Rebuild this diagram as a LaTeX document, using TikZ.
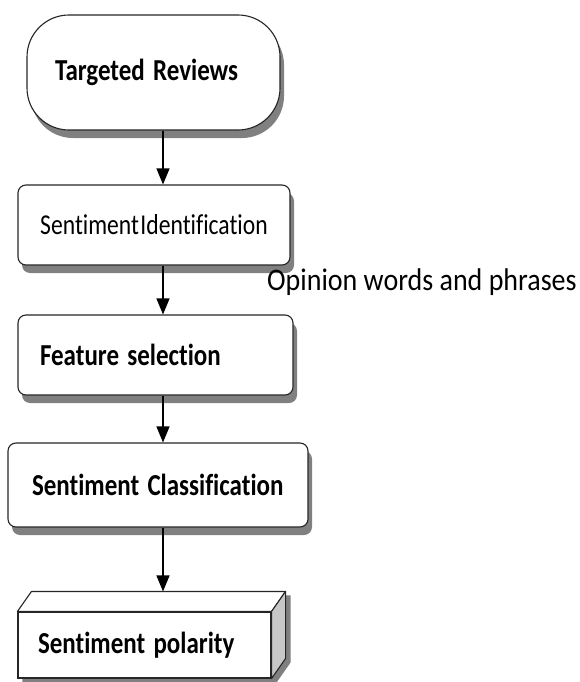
\documentclass[tikz,border=0pt]{standalone}
\usepackage{fontspec}
\setmainfont{Carlito}[Ligatures=NoCommon]
\usetikzlibrary{shadows,arrows.meta,backgrounds}
\newcommand{\vst}[1]{\scalebox{1}[1.22]{#1}}
\begin{document}
\begin{tikzpicture}[x=1pt,y=-1pt,
  box/.style={draw=black!85, line width=1.1pt, fill=white, rounded corners=8pt, align=left, inner ysep=0pt,
    drop shadow={shadow xshift=4pt, shadow yshift=-8pt, fill=black!50, opacity=1}},
  arr/.style={line width=1.2pt, -{Triangle[width=13pt,length=16pt]}},
  bfont/.style={font=\fontsize{25}{30}\selectfont\bfseries},
  rfont/.style={font=\fontsize{23.6}{28}\selectfont},
]
\useasboundingbox (0,0) rectangle (579,682);
\coordinate (ax) at (163,0);

\node[box, rounded corners=42pt, minimum height=115pt, text width=197pt, inner xsep=28pt, bfont]
  (tr) at (153.5,72.5) {\raisebox{5pt}{\vst{Targeted Reviews}}};

\node[box, minimum height=80pt, text width=252pt, inner xsep=10pt, align=center, rfont]
  (si) at (154,225) {\vst{Sentiment\hspace{1.5pt}Identification}};

\node[box, minimum height=80pt, text width=231pt, inner xsep=22pt, bfont]
  (fs) at (155.5,355) {\vst{Feature selection}};

\node[box, minimum height=84pt, text width=252pt, inner xsep=24pt, bfont]
  (sc) at (158,485) {\vst{Sentiment Classification}};

\node[draw=black!85, line width=1.1pt, fill=white, minimum height=66pt, text width=213pt, inner xsep=20pt,
  inner ysep=0pt, align=left, bfont]
  (pol) at (144.5,645) {\vst{Sentiment polarity}};

\fill[white, draw=black!85, line width=1.1pt, line join=round]
  (pol.north west) -- ([shift={(14,-20)}]pol.north west) -- ([shift={(14,-20)}]pol.north east) -- (pol.north east) -- cycle;
\fill[black!22, draw=black!85, line width=1.1pt, line join=round]
  (pol.north east) -- ([shift={(14,-20)}]pol.north east) -- ([shift={(14,-20)}]pol.south east) -- (pol.south east) -- cycle;
\begin{scope}[on background layer]
  \fill[black!50] ([shift={(5,4)}]pol.south west) -- ([shift={(5,4)}]pol.north west)
    -- ([shift={(19,-16)}]pol.north west) -- ([shift={(19,-16)}]pol.north east)
    -- ([shift={(19,-16)}]pol.south east) -- ([shift={(5,4)}]pol.south east) -- cycle;
\end{scope}

\node[anchor=base west, inner sep=0pt, font=\fontsize{28}{32}\selectfont]
  (op) at (267,290) {\scalebox{1}[1.12]{Opinion words and phrases}};

\draw[arr] (tr.south -| ax) -- (si.north -| ax);
\draw[arr] (si.south -| ax) -- (fs.north -| ax);
\draw[arr] (fs.south -| ax) -- (sc.north -| ax);
\draw[arr] (sc.south -| ax) -- ([yshift=20pt]pol.north -| ax);
\end{tikzpicture}
\end{document}
